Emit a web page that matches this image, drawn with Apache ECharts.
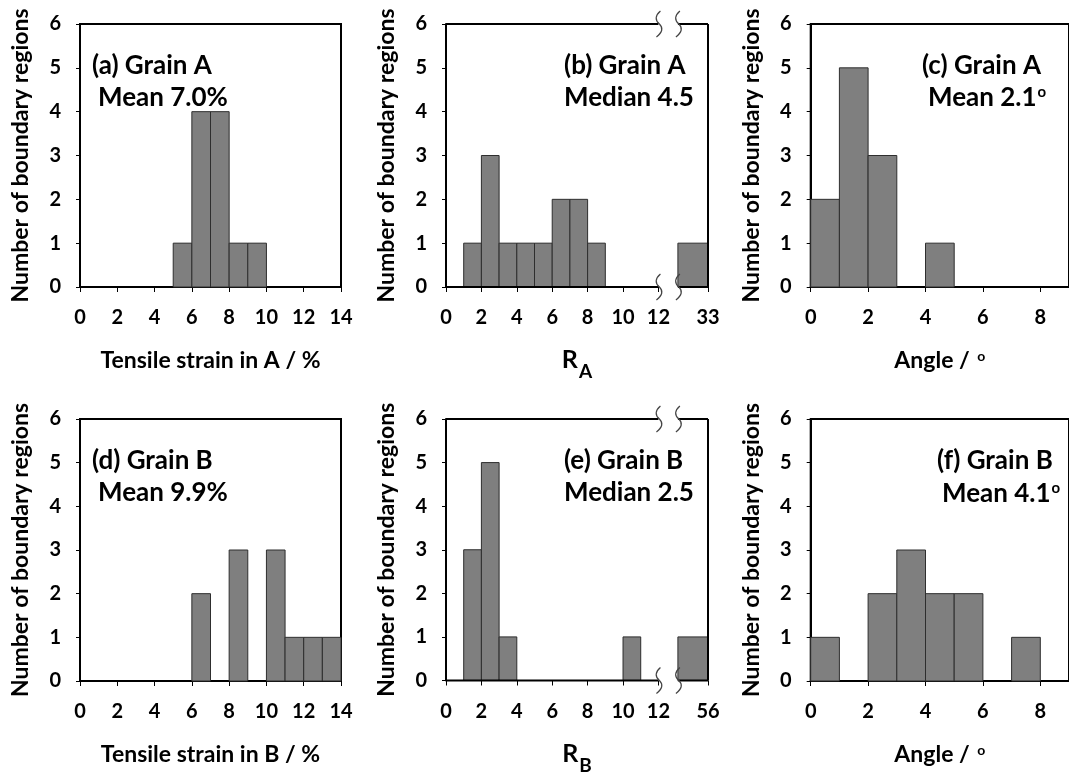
<!DOCTYPE html>
<html>
<head>
<meta charset="utf-8">
<script src="https://cdn.jsdelivr.net/npm/echarts@6/dist/echarts.min.js"></script>
<style>
  html, body { margin: 0; padding: 0; background: #fff; }
  #chart { width: 1069px; height: 776px; }
</style>
</head>
<body>
<div id="chart"></div>
<script>
// ---- Histogram data: bin start (bins are 1 unit wide) and count per bin ----
const strainBinsA = [5, 6, 7, 8, 9];
const strainCountsA = [1, 4, 4, 1, 1];

const ratioBinsA = [1, 2, 3, 4, 5, 6, 7, 8];
const ratioCountsA = [1, 3, 1, 1, 1, 2, 2, 1];
const ratioOutlierLabelA = '33';
const ratioOutlierCountA = 1;

const angleBinsA = [0, 1, 2, 4];
const angleCountsA = [2, 5, 3, 1];

const strainBinsB = [6, 8, 10, 11, 12, 13];
const strainCountsB = [2, 3, 3, 1, 1, 1];

const ratioBinsB = [1, 2, 3, 10];
const ratioCountsB = [3, 5, 1, 1];
const ratioOutlierLabelB = '56';
const ratioOutlierCountB = 1;

const angleBinsB = [0, 2, 3, 4, 5, 7];
const angleCountsB = [1, 2, 3, 2, 2, 1];

// ---- Axis tick labels ----
const countTicks = [0, 1, 2, 3, 4, 5, 6];
const strainTicks = [0, 2, 4, 6, 8, 10, 12, 14];
const ratioTicks = [0, 2, 4, 6, 8, 10, 12];
const angleTicks = [0, 2, 4, 6, 8];

// ---- Panel annotations ----
const panelTitles = ['(a) Grain A', '(b) Grain A', '(c) Grain A', '(d) Grain B', '(e) Grain B', '(f) Grain B'];
const panelStats = ['Mean 7.0%', 'Median 4.5', 'Mean 2.1', 'Mean 9.9%', 'Median 2.5', 'Mean 4.1'];

// ---- Layout of the broken ratio axis ----
const BREAK_START = 12;     // axis runs normally up to here
const BREAK_END = 13.1;     // resumes here for the outlier bin
const RATIO_MAX = 14.8;     // right edge, carries the outlier label

const FONT = 'Lato, "Open Sans", sans-serif';
const BAR_FILL = '#7f7f7f';
const BAR_EDGE = '#2e2e2e';

function binData(bins, counts) {
  return bins.map((b, i) => [b, b + 1, counts[i]]);
}

function barSeries(idx, data) {
  return {
    type: 'custom',
    xAxisIndex: idx,
    yAxisIndex: idx,
    data: data,
    encode: { x: [0, 1], y: 2 },
    z: 3,
    renderItem: function (params, api) {
      const p0 = api.coord([api.value(0), api.value(2)]);
      const p1 = api.coord([api.value(1), 0]);
      return {
        type: 'rect',
        shape: { x: p0[0], y: p0[1], width: p1[0] - p0[0], height: p1[1] - p0[1] },
        style: { fill: BAR_FILL, stroke: BAR_EDGE, lineWidth: 1 }
      };
    }
  };
}

// Frame with break marks for the ratio panels
function brokenFrameSeries(idx) {
  return {
    type: 'custom',
    xAxisIndex: idx,
    yAxisIndex: idx,
    data: [[0, 0]],
    z: 5,
    silent: true,
    renderItem: function (params, api) {
      const line = (a, b) => {
        const p = api.coord(a), q = api.coord(b);
        return { type: 'line', shape: { x1: p[0], y1: p[1], x2: q[0], y2: q[1] },
                 style: { stroke: '#000', lineWidth: 2 } };
      };
      const mark = (x, y) => {
        const c = api.coord([x, y]);
        return {
          type: 'path',
          shape: {
            pathData: 'M' + (c[0] + 2) + ' ' + (c[1] - 13) +
              ' Q' + (c[0] - 6) + ' ' + (c[1] - 6) + ' ' + (c[0] + 1) + ' ' + c[1] +
              ' Q' + (c[0] + 7) + ' ' + (c[1] + 6) + ' ' + (c[0] - 2) + ' ' + (c[1] + 13)
          },
          style: { fill: 'none', stroke: '#444', lineWidth: 1.2 }
        };
      };
      return {
        type: 'group',
        children: [
          line([0, 0], [BREAK_START, 0]),
          line([BREAK_END, 0], [RATIO_MAX, 0]),
          line([0, 6], [BREAK_START, 6]),
          line([BREAK_END, 6], [RATIO_MAX, 6]),
          line([RATIO_MAX, 0], [RATIO_MAX, 6]),
          mark(BREAK_START, 0), mark(BREAK_END, 0),
          mark(BREAK_START, 6), mark(BREAK_END, 6)
        ]
      };
    }
  };
}

const grids = [
  { left: 80, top: 24, width: 261, height: 263, show: true, borderColor: '#000', borderWidth: 2 },
  { left: 446, top: 24, width: 262, height: 263, show: false },
  { left: 810.7, top: 24, width: 261.4, height: 263, show: true, borderColor: '#000', borderWidth: 2 },
  { left: 80, top: 419, width: 261, height: 262, show: true, borderColor: '#000', borderWidth: 2 },
  { left: 446, top: 419, width: 262, height: 262, show: false },
  { left: 810.7, top: 419, width: 261.4, height: 262, show: true, borderColor: '#000', borderWidth: 2 }
];

const labelStyle = { fontFamily: FONT, fontWeight: 'bold', fontSize: 20, color: '#000' };
const nameStyle = {
  fontFamily: FONT, fontWeight: 'bold', fontSize: 23, color: '#000',
  rich: {
    t: { fontFamily: FONT, fontWeight: 'bold', fontSize: 23, color: '#000' },
    r: { fontFamily: FONT, fontWeight: 'bold', fontSize: 25, color: '#000', lineHeight: 26 },
    sub: { fontFamily: FONT, fontWeight: 'bold', fontSize: 19, color: '#000', padding: [24, 0, 0, 1], lineHeight: 26 },
    sup: { fontFamily: FONT, fontWeight: 'bold', fontSize: 14, color: '#000', verticalAlign: 'top', padding: [0, 0, 10, 2] }
  }
};

function xAxisDef(idx, max, ticks, name, nameGap, fmt, axisLineShow) {
  return {
    gridIndex: idx,
    type: 'value',
    min: 0,
    max: max,
    name: name,
    nameLocation: 'middle',
    nameGap: nameGap,
    nameTextStyle: nameStyle,
    axisLine: { show: axisLineShow, onZero: false, lineStyle: { color: '#000', width: 2 } },
    axisTick: { show: true, length: 5, customValues: ticks, lineStyle: { color: '#000', width: 1 } },
    axisLabel: Object.assign({ margin: 21, customValues: ticks, formatter: fmt || (v => String(v)) }, labelStyle),
    splitLine: { show: false }
  };
}

function yAxisDef(idx) {
  return {
    gridIndex: idx,
    type: 'value',
    min: 0,
    max: 6,
    interval: 1,
    name: 'Number of boundary regions',
    nameLocation: 'middle',
    nameGap: 48,
    nameRotate: 90,
    nameTextStyle: { fontFamily: FONT, fontWeight: 'bold', fontSize: 23, color: '#000' },
    axisLine: { show: true, lineStyle: { color: '#000', width: 2 } },
    axisTick: { show: true, length: 4, lineStyle: { color: '#000', width: 1 } },
    axisLabel: Object.assign({ margin: 19, customValues: countTicks }, labelStyle),
    splitLine: { show: false }
  };
}

const ratioTicksFull = ratioTicks.concat([RATIO_MAX]);
const fmtRatio = (label) => (v => (v === RATIO_MAX ? label : String(v)));

const xAxes = [
  xAxisDef(0, 14, strainTicks, '{t|Tensile strain in A / %}', 62, null, true),
  xAxisDef(1, RATIO_MAX, ratioTicksFull, '{r|R}{sub|A}', 60, fmtRatio(ratioOutlierLabelA), false),
  xAxisDef(2, 9, angleTicks, '{t|Angle / }{sup|o}', 62, null, true),
  xAxisDef(3, 14, strainTicks, '{t|Tensile strain in B / %}', 62, null, true),
  xAxisDef(4, RATIO_MAX, ratioTicksFull, '{r|R}{sub|B}', 60, fmtRatio(ratioOutlierLabelB), false),
  xAxisDef(5, 9, angleTicks, '{t|Angle / }{sup|o}', 62, null, true)
];

const yAxes = [0, 1, 2, 3, 4, 5].map(yAxisDef);

const series = [
  barSeries(0, binData(strainBinsA, strainCountsA)),
  barSeries(1, binData(ratioBinsA, ratioCountsA).concat([[BREAK_END, RATIO_MAX, ratioOutlierCountA]])),
  barSeries(2, binData(angleBinsA, angleCountsA)),
  barSeries(3, binData(strainBinsB, strainCountsB)),
  barSeries(4, binData(ratioBinsB, ratioCountsB).concat([[BREAK_END, RATIO_MAX, ratioOutlierCountB]])),
  barSeries(5, binData(angleBinsB, angleCountsB)),
  brokenFrameSeries(1),
  brokenFrameSeries(4)
];

// Annotation placement (left x, middle y) for the two lines of each panel
const notePos = [
  [[92, 66], [98, 98]],
  [[564, 66], [564, 98]],
  [[922, 66], [928, 98]],
  [[92, 461], [98, 493]],
  [[564, 461], [564, 493]],
  [[937, 461], [942, 494]]
];
const degreePanels = [2, 5];

const noteRich = {
  m: { fontFamily: FONT, fontWeight: 'bold', fontSize: 26, color: '#000' },
  sup: { fontFamily: FONT, fontWeight: 'bold', fontSize: 15, color: '#000', verticalAlign: 'top', padding: [0, 0, 12, 1] }
};

const graphics = [];
panelTitles.forEach((t, i) => {
  graphics.push({
    type: 'text', x: notePos[i][0][0], y: notePos[i][0][1], z: 10,
    style: { text: '{m|' + t + '}', rich: noteRich, verticalAlign: 'middle', align: 'left' }
  });
  const stat = degreePanels.indexOf(i) >= 0 ? '{m|' + panelStats[i] + '}{sup|o}' : '{m|' + panelStats[i] + '}';
  graphics.push({
    type: 'text', x: notePos[i][1][0], y: notePos[i][1][1], z: 10,
    style: { text: stat, rich: noteRich, verticalAlign: 'middle', align: 'left' }
  });
});

const chart = echarts.init(document.getElementById('chart'), null, { renderer: 'canvas' });
chart.setOption({
  animation: false,
  backgroundColor: '#fff',
  grid: grids,
  xAxis: xAxes,
  yAxis: yAxes,
  series: series,
  graphic: graphics
});
</script>
</body>
</html>
